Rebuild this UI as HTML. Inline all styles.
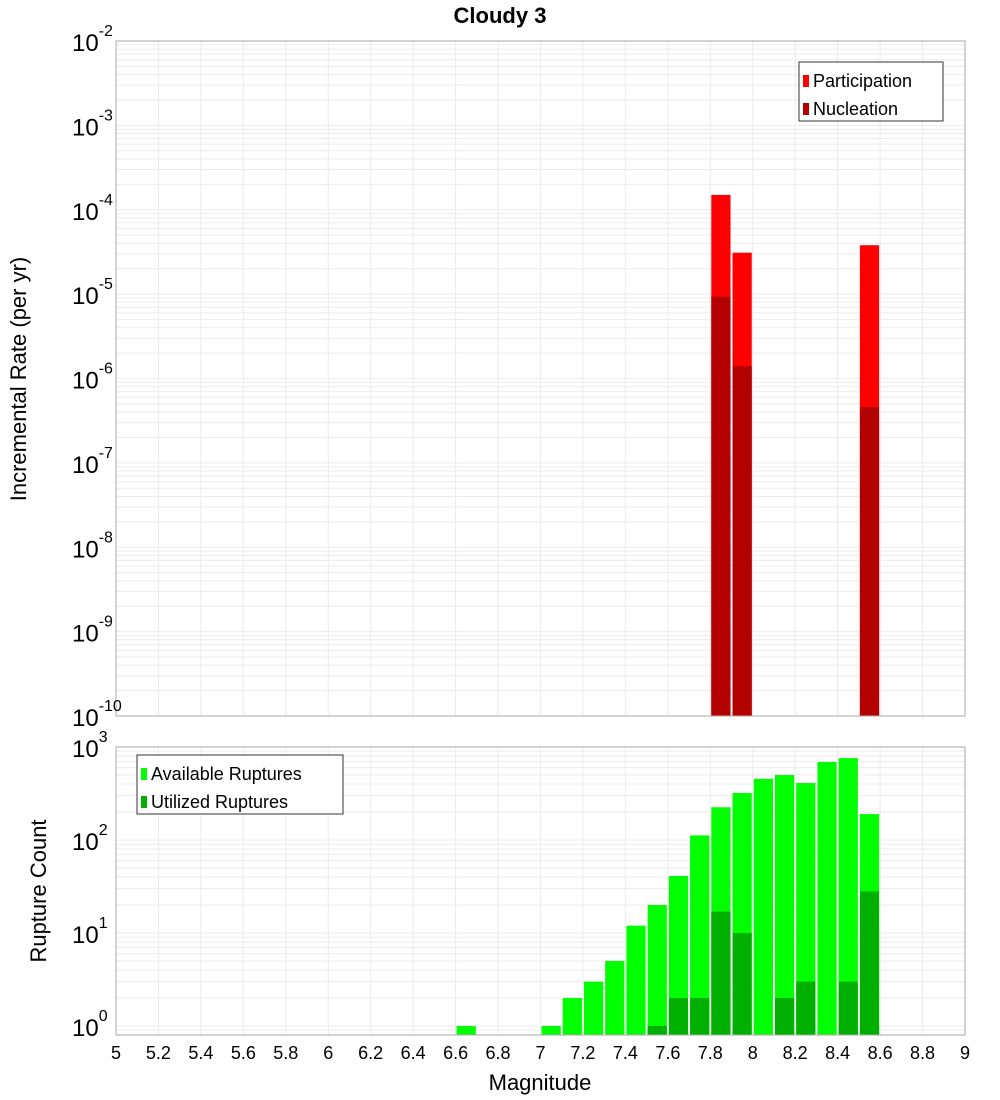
<!DOCTYPE html>
<html><head><meta charset="utf-8"><style>
body{margin:0;background:#fff;font-family:"Liberation Sans","DejaVu Sans",sans-serif}
svg{display:block}
</style></head><body>
<svg id="c" width="1000" height="1100" xmlns="http://www.w3.org/2000/svg"></svg>
<script>
const magBins=[6.6,7.0,7.1,7.2,7.3,7.4,7.5,7.6,7.7,7.8,7.9,8.0,8.1,8.2,8.3,8.4,8.5];
const availCounts=[1,1,2,3,5,12,20,41,112,225,320,455,500,410,690,760,190];
const utilCounts=[0,0,0,0,0,0,1,2,2,17,10,0,2,3,0,3,28];
const rateBins=[7.8,7.9,8.5];
const partRates=[1.5e-4,3.1e-5,3.8e-5];
const nuclRates=[9.3e-6,1.4e-6,4.6e-7];
const xTicks=[5,5.2,5.4,5.6,5.8,6,6.2,6.4,6.6,6.8,7,7.2,7.4,7.6,7.8,8,8.2,8.4,8.6,8.8,9];
const topExps=[-2,-3,-4,-5,-6,-7,-8,-9,-10];
const botExps=[3,2,1,0];

const svg=document.getElementById('c');const NS='http://www.w3.org/2000/svg';
function el(t,a,p){const e=document.createElementNS(NS,t);for(const k in a)e.setAttribute(k,a[k]);(p||svg).appendChild(e);return e;}
const L=116,R=965;
const X=m=>L+(m-5)/4*(R-L);
const T={top:41,bot:716,lmax:-2,lmin:-10};
const B={top:747,bot:1035,lmax:3,lmin:-0.097};
const Y=(p,v)=>p.top+(p.lmax-Math.log10(v))/(p.lmax-p.lmin)*(p.bot-p.top);

function grid(p,name){
  const g=el('g',{});
  
  
  for(let m=5;m<=9.001;m+=0.2){const x=X(m);el('line',{x1:x,x2:x,y1:p.top,y2:p.bot,stroke:'#ebebeb','stroke-width':1},g);}
  for(let e=Math.floor(p.lmin);e<p.lmax;e++){for(let k=1;k<10;k++){const v=k*Math.pow(10,e);const lv=Math.log10(v);if(lv<p.lmin||lv>p.lmax)continue;const y=Y(p,v);el('line',{x1:L,x2:R,y1:y,y2:y,stroke:'#ebebeb','stroke-width':1},g);}}
}
grid(T,'top');grid(B,'bottom');

function bar(p,m,v,color,name){
  if(v<=0)return;
  const x0=X(m)+1,x1=X(m+0.1)-1;const y=Y(p,v);
  const r=el('rect',{x:x0,y:y,width:x1-x0,height:p.bot-y,fill:color});
  
  
}
rateBins.forEach((m,i)=>bar(T,m,partRates[i],'#ff0000','participation-bar'));
rateBins.forEach((m,i)=>bar(T,m,nuclRates[i],'#b30000','nucleation-bar'));
magBins.forEach((m,i)=>bar(B,m,availCounts[i],'#00ff00','available-bar'));
magBins.forEach((m,i)=>bar(B,m,utilCounts[i],'#00b000','utilized-bar'));

[T,B].forEach((p,i)=>{const r=el('rect',{x:L,y:p.top,width:R-L,height:p.bot-p.top,fill:'none',stroke:'#aaa'});

});

function ylabel(p,e,name){
  const y=Y(p,Math.pow(10,e));
  const t=el('text',{x:72,y:y+10,'font-size':24,fill:'#000'});
  
  
  t.textContent='10';
  const s=el('tspan',{dy:-15,'font-size':16},t);s.textContent=String(e);
}
topExps.forEach(e=>ylabel(T,e,'top-y-tick'));
botExps.forEach(e=>ylabel(B,e,'bottom-y-tick'));
xTicks.forEach(m=>{const t=el('text',{x:X(m),y:1059,'font-size':18,'text-anchor':'middle',fill:'#000'});


t.textContent=String(m);});

function txt(x,y,s,attrs,name){const t=el('text',Object.assign({x:x,y:y,fill:'#000'},attrs));t.textContent=s;

return t;}
txt(500,23,'Cloudy 3',{'font-size':22,'font-weight':'bold','text-anchor':'middle'},'chart-title');
txt(540,1090,'Magnitude',{'font-size':22,'text-anchor':'middle'},'x-axis-title');
txt(0,0,'Incremental Rate (per yr)',{'font-size':22,'text-anchor':'middle',transform:'translate(26,379) rotate(-90)'},'top-y-axis-title');
txt(0,0,'Rupture Count',{'font-size':22,'text-anchor':'middle',transform:'translate(46,891) rotate(-90)'},'bottom-y-axis-title');

function legend(x,y,w,items,name){
  const g=el('g',{});
  
  
  el('rect',{x:x,y:y,width:w,height:59,fill:'#fff',stroke:'#333'},g);
  items.forEach((it,i)=>{const yy=y+11+i*28;el('rect',{x:x+4,y:yy+2,width:6,height:12,fill:it[1]},g);
    const t=el('text',{x:x+14,y:yy+14,'font-size':18,fill:'#000'},g);t.textContent=it[0];});
}
legend(799,62,144,[['Participation','#ff0000'],['Nucleation','#b30000']],'top-legend');
legend(137,755,206,[['Available Ruptures','#00ff00'],['Utilized Ruptures','#00b000']],'bottom-legend');
</script>
</body></html>
